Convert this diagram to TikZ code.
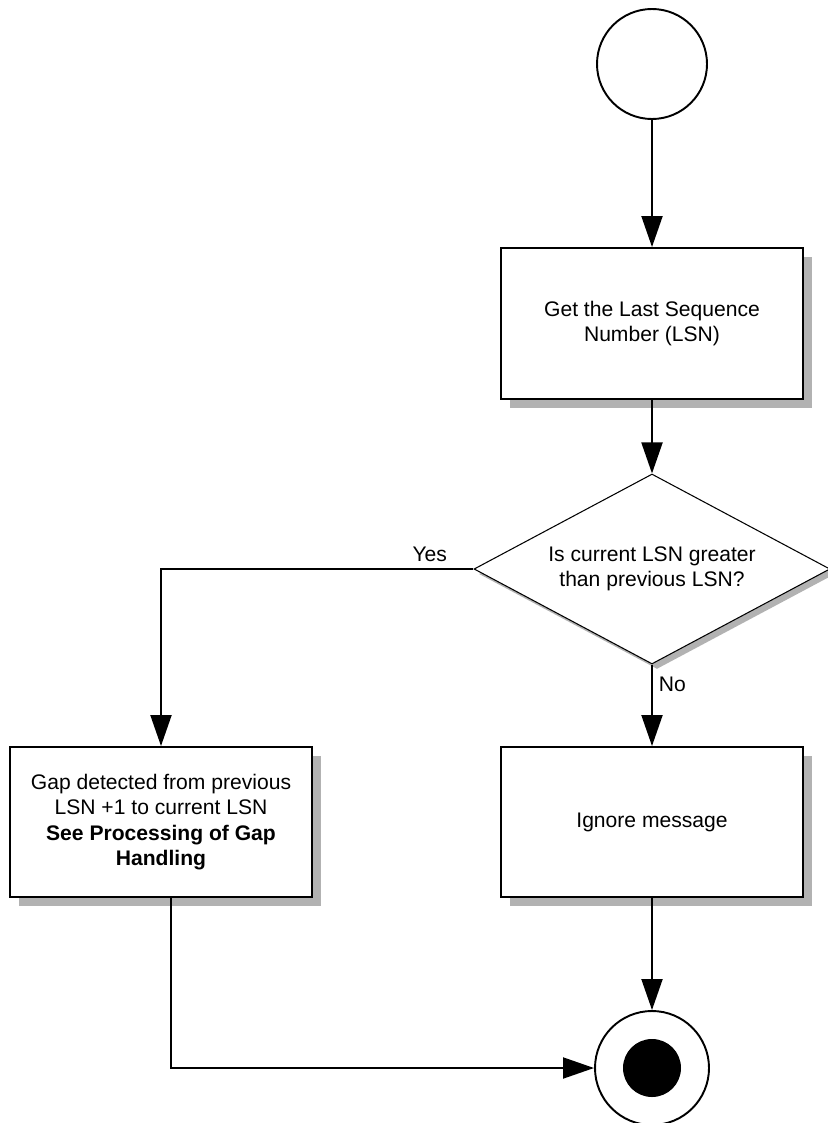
\documentclass[tikz,border=0pt]{standalone}
\usepackage{fontspec}
\setmainfont{Liberation Sans}
\usetikzlibrary{arrows.meta,shapes.geometric,shadows}

\begin{document}
\begin{tikzpicture}[
    font=\fontsize{12}{14.5}\selectfont,
    process/.style={rectangle, draw, line width=1.1pt, fill=white, minimum width=6.04cm, minimum height=3.02cm, align=center, drop shadow={shadow xshift=0.18cm, shadow yshift=-0.18cm, fill=black!30, opacity=1}},
    decision/.style={diamond, draw, line width=0.6pt, fill=white, aspect=1.87, inner sep=0pt, minimum width=7.12cm, minimum height=3.8cm, align=center, drop shadow={shadow xshift=0.1cm, shadow yshift=-0.1cm, fill=black!30, opacity=1}},
    startnode/.style={circle, draw, line width=1.1pt, minimum size=2.2cm},
    endnode/.style={circle, draw, line width=1.1pt, minimum size=2.28cm},
    flow_arrow/.style={-{Triangle[length=0.62cm, width=0.42cm]}, line width=1.1pt},
    label/.style={font=\fontsize{12}{14.5}\selectfont}
]
    \useasboundingbox (0,0) rectangle (16.54,-22.46);
    % Start
    \node[startnode] (start) at (13.04,-1.28) {};
    % Get LSN
    \node[process] (getlsn) at (13.04,-6.47) {Get the Last Sequence\\Number (LSN)};
    % Decision
    \node[decision] (compare) at (13.04,-11.38) {Is current LSN greater\\than previous LSN?};
    % Outcomes
    \node[process, minimum height=3.0cm] (gap) at (3.22,-16.44) {Gap detected from previous\\LSN +1 to current LSN\\\textbf{See Processing of Gap}\\\textbf{Handling}};
    \node[process, minimum height=3.0cm] (ignore) at (13.04,-16.44) {Ignore message};
    % End
    \node[endnode] (finish) at (13.04,-21.36) {};
    \fill (finish.center) circle (0.58cm);
    % Arrows
    \draw[flow_arrow] (start) -- (getlsn);
    \draw[flow_arrow] (getlsn) -- (compare);
    \draw[flow_arrow] (compare.west) -| node[label, pos=0.07, above] {Yes} (gap.north);
    \draw[flow_arrow] (compare.south) -- node[label, pos=0.24, right] {No} (ignore.north);
    \draw[flow_arrow] (ignore) -- (finish);
    \draw[flow_arrow] ([xshift=0.2cm]gap.south) |- (finish);
\end{tikzpicture}
\end{document}
